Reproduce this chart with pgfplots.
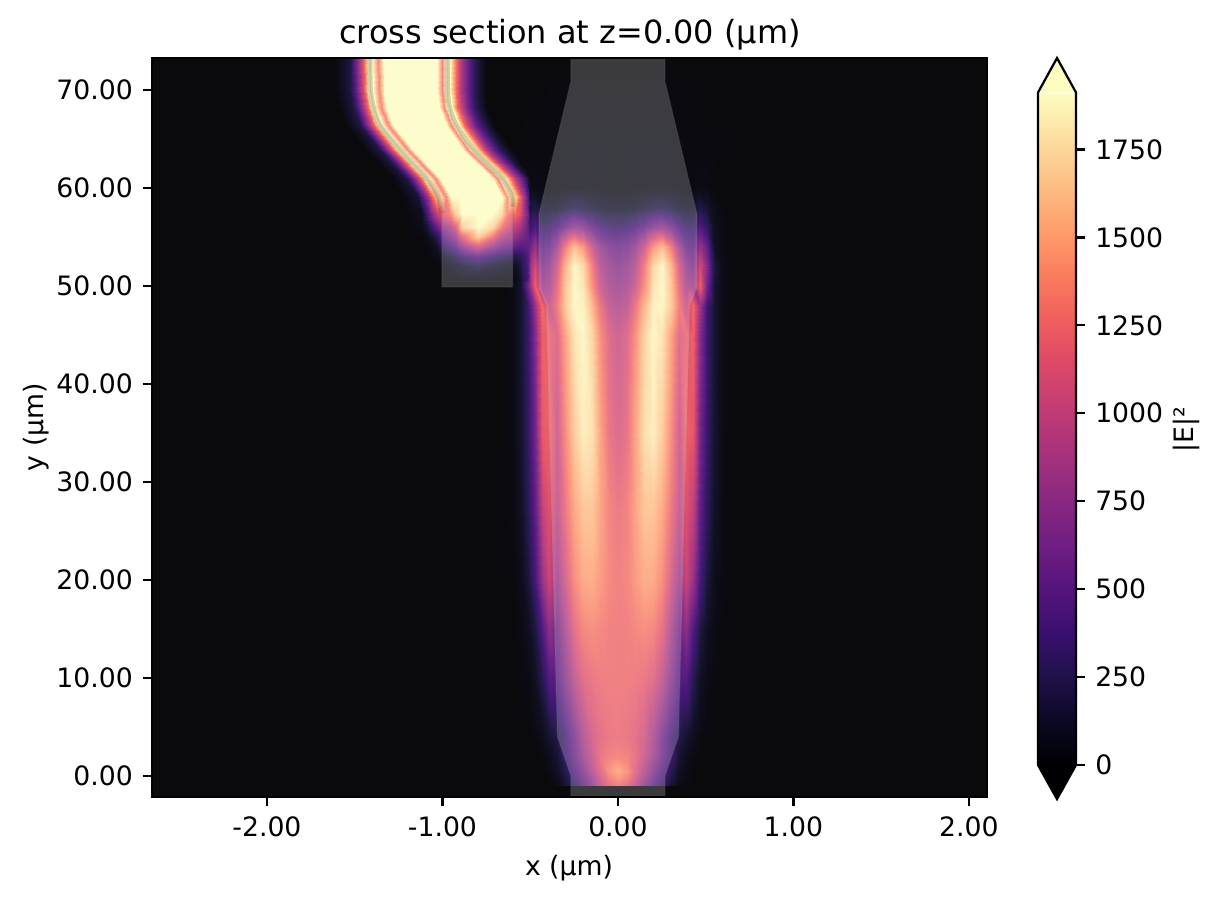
\documentclass[border=0pt]{standalone}
\usepackage{pgfplots}
\pgfplotsset{compat=1.18}
\usepackage{fontspec}
\setmainfont{DejaVu Sans}
\definecolor{bgm}{RGB}{0,0,4}
\pgfplotsset{colormap={magma}{
rgb255=(0,0,4) rgb255=(11,9,36) rgb255=(32,17,75) rgb255=(59,15,112) rgb255=(87,21,126) rgb255=(114,31,129) rgb255=(140,41,129) rgb255=(168,50,125) rgb255=(196,60,117) rgb255=(222,73,104) rgb255=(241,96,93) rgb255=(250,127,94) rgb255=(254,159,109) rgb255=(254,191,132) rgb255=(253,222,160) rgb255=(252,253,191)}}
\begin{document}
\begin{tikzpicture}[x=0.36pt,y=0.36pt]
\path (0,0) rectangle (1219,901);
\begin{axis}[at={(54.72pt,37.44pt)},anchor=south west,scale only axis,width=300.6pt,height=266.04pt,
 xmin=-2.655,xmax=2.103,ymin=-2.14,ymax=73.27,axis on top,
 axis background/.style={fill=bgm},
 tick align=outside,xtick pos=bottom,ytick pos=left,major tick length=3.4pt,
 every tick/.style={black,line width=.8pt},axis line style={line width=.8pt},
 xtick={-2,-1,0,1,2},xticklabels={-2.00,-1.00,0.00,1.00,2.00},
 ytick={0,10,...,70},yticklabels={0.00,10.00,20.00,30.00,40.00,50.00,60.00,70.00},
 tick label style={font=\fontsize{9.6}{12}\selectfont},
 point meta min=0,point meta max=1912]
\addplot[surf,shader=interp,mesh/cols=29,point meta=explicit] table[x=x,y=y,meta=v]{
x y v
-.65 -1.01 0
-.6 -1.01 0
-.55 -1.01 0
-.51 -1.01 0
-.47 -1.01 0
-.43 -1.01 0
-.39 -1.01 0
-.35 -1.01 0
-.3 -1.01 0
-.25 -1.01 0
-.2 -1.01 0
-.15 -1.01 0
-.1 -1.01 0
-.05 -1.01 0
0 -1.01 0
.05 -1.01 0
.1 -1.01 0
.15 -1.01 0
.2 -1.01 0
.25 -1.01 0
.3 -1.01 0
.35 -1.01 0
.39 -1.01 0
.43 -1.01 0
.47 -1.01 0
.51 -1.01 0
.55 -1.01 0
.6 -1.01 0
.65 -1.01 0
-.65 -1 0
-.6 -1 0
-.55 -1 0
-.51 -1 0
-.47 -1 0
-.43 -1 0
-.39 -1 0
-.35 -1 30
-.3 -1 150
-.25 -1 300
-.2 -1 500
-.15 -1 700
-.1 -1 950
-.05 -1 1150
0 -1 1250
.05 -1 1150
.1 -1 950
.15 -1 700
.2 -1 500
.25 -1 300
.3 -1 150
.35 -1 30
.39 -1 0
.43 -1 0
.47 -1 0
.51 -1 0
.55 -1 0
.6 -1 0
.65 -1 0
-.65 .5 0
-.6 .5 0
-.55 .5 0
-.51 .5 0
-.47 .5 0
-.43 .5 0
-.39 .5 30
-.35 .5 100
-.3 .5 250
-.25 .5 450
-.2 .5 650
-.15 .5 900
-.1 .5 1130
-.05 .5 1380
0 .5 1500
.05 .5 1380
.1 .5 1130
.15 .5 900
.2 .5 650
.25 .5 450
.3 .5 250
.35 .5 100
.39 .5 30
.43 .5 0
.47 .5 0
.51 .5 0
.55 .5 0
.6 .5 0
.65 .5 0
-.65 2 0
-.6 2 0
-.55 2 0
-.51 2 0
-.47 2 0
-.43 2 20
-.39 2 60
-.35 2 150
-.3 2 350
-.25 2 560
-.2 2 800
-.15 2 1000
-.1 2 1180
-.05 2 1270
0 2 1300
.05 2 1270
.1 2 1180
.15 2 1000
.2 2 800
.25 2 560
.3 2 350
.35 2 150
.39 2 60
.43 2 20
.47 2 0
.51 2 0
.55 2 0
.6 2 0
.65 2 0
-.65 4 0
-.6 4 0
-.55 4 0
-.51 4 0
-.47 4 20
-.43 4 60
-.39 4 140
-.35 4 230
-.3 4 380
-.25 4 600
-.2 4 850
-.15 4 1050
-.1 4 1150
-.05 4 1200
0 4 1220
.05 4 1200
.1 4 1150
.15 4 1050
.2 4 850
.25 4 600
.3 4 380
.35 4 230
.39 4 140
.43 4 60
.47 4 20
.51 4 0
.55 4 0
.6 4 0
.65 4 0
-.65 10 0
-.6 10 0
-.55 10 10
-.51 10 30
-.47 10 100
-.43 10 250
-.39 10 480
-.35 10 480
-.3 10 700
-.25 10 950
-.2 10 1130
-.15 10 1200
-.1 10 1240
-.05 10 1250
0 10 1250
.05 10 1250
.1 10 1240
.15 10 1200
.2 10 1130
.25 10 950
.3 10 700
.35 10 480
.39 10 480
.43 10 250
.47 10 100
.51 10 30
.55 10 10
.6 10 0
.65 10 0
-.65 15 0
-.6 15 0
-.55 15 30
-.51 15 80
-.47 15 200
-.43 15 450
-.39 15 750
-.35 15 600
-.3 15 850
-.25 15 1150
-.2 15 1300
-.15 15 1340
-.1 15 1300
-.05 15 1260
0 15 1250
.05 15 1260
.1 15 1300
.15 15 1340
.2 15 1300
.25 15 1150
.3 15 850
.35 15 600
.39 15 750
.43 15 450
.47 15 200
.51 15 80
.55 15 30
.6 15 0
.65 15 0
-.65 20 0
-.6 20 10
-.55 20 60
-.51 20 180
-.47 20 400
-.43 20 800
-.39 20 1050
-.35 20 800
-.3 20 1050
-.25 20 1330
-.2 20 1480
-.15 20 1500
-.1 20 1400
-.05 20 1300
0 20 1260
.05 20 1300
.1 20 1400
.15 20 1500
.2 20 1480
.25 20 1330
.3 20 1050
.35 20 800
.39 20 1050
.43 20 800
.47 20 400
.51 20 180
.55 20 60
.6 20 10
.65 20 0
-.65 27 0
-.6 27 20
-.55 27 110
-.51 27 270
-.47 27 520
-.43 27 1000
-.39 27 1150
-.35 27 950
-.3 27 1200
-.25 27 1470
-.2 27 1620
-.15 27 1620
-.1 27 1450
-.05 27 1280
0 27 1220
.05 27 1280
.1 27 1450
.15 27 1620
.2 27 1620
.25 27 1470
.3 27 1200
.35 27 950
.39 27 1150
.43 27 1000
.47 27 520
.51 27 270
.55 27 110
.6 27 20
.65 27 0
-.65 35 0
-.6 35 25
-.55 35 140
-.51 35 320
-.47 35 620
-.43 35 1200
-.39 35 1250
-.35 35 1000
-.3 35 1330
-.25 35 1650
-.2 35 1830
-.15 35 1760
-.1 35 1450
-.05 35 1180
0 35 1080
.05 35 1180
.1 35 1450
.15 35 1760
.2 35 1830
.25 35 1650
.3 35 1330
.35 35 1000
.39 35 1250
.43 35 1200
.47 35 620
.51 35 320
.55 35 140
.6 35 25
.65 35 0
-.65 45 0
-.6 45 25
-.55 45 150
-.51 45 340
-.47 45 700
-.43 45 1250
-.39 45 1200
-.35 45 1100
-.3 45 1450
-.25 45 1780
-.2 45 1880
-.15 45 1700
-.1 45 1350
-.05 45 1100
0 45 1000
.05 45 1100
.1 45 1350
.15 45 1700
.2 45 1880
.25 45 1780
.3 45 1450
.35 45 1100
.39 45 1200
.43 45 1250
.47 45 700
.51 45 340
.55 45 150
.6 45 25
.65 45 0
-.65 48 0
-.6 48 25
-.55 48 150
-.51 48 350
-.47 48 800
-.43 48 1300
-.39 48 1000
-.35 48 1250
-.3 48 1650
-.25 48 1880
-.2 48 1850
-.15 48 1550
-.1 48 1200
-.05 48 950
0 48 880
.05 48 950
.1 48 1200
.15 48 1550
.2 48 1850
.25 48 1880
.3 48 1650
.35 48 1250
.39 48 1000
.43 48 1300
.47 48 800
.51 48 350
.55 48 150
.6 48 25
.65 48 0
-.65 50 0
-.6 50 30
-.55 50 150
-.51 50 600
-.47 50 1250
-.43 50 800
-.39 50 850
-.35 50 1150
-.3 50 1620
-.25 50 1880
-.2 50 1780
-.15 50 1350
-.1 50 1000
-.05 50 830
0 50 780
.05 50 830
.1 50 1000
.15 50 1350
.2 50 1780
.25 50 1880
.3 50 1620
.35 50 1150
.39 50 850
.43 50 800
.47 50 1250
.51 50 600
.55 50 150
.6 50 30
.65 50 0
-.65 52 0
-.6 52 30
-.55 52 200
-.51 52 700
-.47 52 1100
-.43 52 650
-.39 52 750
-.35 52 1050
-.3 52 1550
-.25 52 1880
-.2 52 1720
-.15 52 1250
-.1 52 900
-.05 52 760
0 52 700
.05 52 760
.1 52 900
.15 52 1250
.2 52 1720
.25 52 1880
.3 52 1550
.35 52 1050
.39 52 750
.43 52 650
.47 52 1100
.51 52 700
.55 52 200
.6 52 30
.65 52 0
-.65 54 0
-.6 54 30
-.55 54 100
-.51 54 550
-.47 54 800
-.43 54 500
-.39 54 550
-.35 54 800
-.3 54 1250
-.25 54 1600
-.2 54 1400
-.15 54 1000
-.1 54 750
-.05 54 620
0 54 570
.05 54 620
.1 54 750
.15 54 1000
.2 54 1400
.25 54 1600
.3 54 1250
.35 54 800
.39 54 550
.43 54 500
.47 54 800
.51 54 550
.55 54 100
.6 54 30
.65 54 0
-.65 56 0
-.6 56 30
-.55 56 80
-.51 56 300
-.47 56 450
-.43 56 300
-.39 56 320
-.35 56 420
-.3 56 600
-.25 56 750
-.2 56 680
-.15 56 520
-.1 56 400
-.05 56 340
0 56 320
.05 56 340
.1 56 400
.15 56 520
.2 56 680
.25 56 750
.3 56 600
.35 56 420
.39 56 320
.43 56 300
.47 56 450
.51 56 300
.55 56 80
.6 56 30
.65 56 0
-.65 58 0
-.6 58 10
-.55 58 50
-.51 58 150
-.47 58 220
-.43 58 120
-.39 58 120
-.35 58 140
-.3 58 190
-.25 58 230
-.2 58 210
-.15 58 170
-.1 58 140
-.05 58 120
0 58 110
.05 58 120
.1 58 140
.15 58 170
.2 58 210
.25 58 230
.3 58 190
.35 58 140
.39 58 120
.43 58 120
.47 58 220
.51 58 150
.55 58 50
.6 58 10
.65 58 0
-.65 60 0
-.6 60 0
-.55 60 10
-.51 60 30
-.47 60 30
-.43 60 20
-.39 60 20
-.35 60 25
-.3 60 35
-.25 60 40
-.2 60 40
-.15 60 35
-.1 60 30
-.05 60 25
0 60 25
.05 60 25
.1 60 30
.15 60 35
.2 60 40
.25 60 40
.3 60 35
.35 60 25
.39 60 20
.43 60 20
.47 60 30
.51 60 30
.55 60 10
.6 60 0
.65 60 0
-.65 65 0
-.6 65 0
-.55 65 5
-.51 65 10
-.47 65 10
-.43 65 10
-.39 65 10
-.35 65 15
-.3 65 20
-.25 65 25
-.2 65 25
-.15 65 25
-.1 65 25
-.05 65 25
0 65 25
.05 65 25
.1 65 25
.15 65 25
.2 65 25
.25 65 25
.3 65 20
.35 65 15
.39 65 10
.43 65 10
.47 65 10
.51 65 10
.55 65 5
.6 65 0
.65 65 0
-.65 73.3 0
-.6 73.3 0
-.55 73.3 0
-.51 73.3 0
-.47 73.3 0
-.43 73.3 0
-.39 73.3 5
-.35 73.3 5
-.3 73.3 5
-.25 73.3 10
-.2 73.3 10
-.15 73.3 10
-.1 73.3 10
-.05 73.3 10
0 73.3 10
.05 73.3 10
.1 73.3 10
.15 73.3 10
.2 73.3 10
.25 73.3 10
.3 73.3 5
.35 73.3 5
.39 73.3 5
.43 73.3 0
.47 73.3 0
.51 73.3 0
.55 73.3 0
.6 73.3 0
.65 73.3 0
};
\addplot[surf,shader=interp,mesh/cols=21,point meta=explicit] table[x=x,y=y,meta=v]{
x y v
-1.613 73.3 0
-1.528 73.3 200
-1.503 73.3 480
-1.473 73.3 850
-1.446 73.3 1300
-1.425 73.3 1906
-1.401 73.3 1906
-1.367 73.3 1300
-1.338 73.3 1906
-1.289 73.3 1906
-1.192 73.3 1906
-1.094 73.3 1906
-1.03 73.3 1906
-1.003 73.3 1300
-.982 73.3 1906
-.958 73.3 1906
-.925 73.3 1300
-.895 73.3 900
-.856 73.3 550
-.816 73.3 250
-.754 73.3 0
-1.61 70 0
-1.525 70 200
-1.5 70 480
-1.47 70 850
-1.443 70 1300
-1.422 70 1906
-1.398 70 1906
-1.364 70 1300
-1.335 70 1906
-1.287 70 1906
-1.19 70 1906
-1.093 70 1906
-1.03 70 1906
-1.003 70 1300
-.982 70 1906
-.958 70 1906
-.925 70 1300
-.895 70 900
-.856 70 550
-.816 70 250
-.754 70 0
-1.594 68.3 0
-1.509 68.3 200
-1.484 68.3 480
-1.454 68.3 850
-1.427 68.3 1300
-1.406 68.3 1906
-1.382 68.3 1906
-1.348 68.3 1300
-1.319 68.3 1906
-1.272 68.3 1906
-1.177 68.3 1906
-1.082 68.3 1906
-1.02 68.3 1906
-.993 68.3 1300
-.972 68.3 1906
-.948 68.3 1906
-.915 68.3 1300
-.885 68.3 900
-.846 68.3 550
-.806 68.3 250
-.744 68.3 0
-1.556 66.4 0
-1.471 66.4 200
-1.446 66.4 480
-1.416 66.4 850
-1.389 66.4 1300
-1.368 66.4 1906
-1.344 66.4 1906
-1.31 66.4 1300
-1.281 66.4 1906
-1.234 66.4 1906
-1.138 66.4 1906
-1.042 66.4 1906
-.98 66.4 1906
-.953 66.4 1300
-.932 66.4 1906
-.908 66.4 1906
-.875 66.4 1300
-.845 66.4 900
-.806 66.4 550
-.766 66.4 250
-.704 66.4 0
-1.442 63.9 0
-1.357 63.9 200
-1.332 63.9 480
-1.302 63.9 850
-1.275 63.9 1300
-1.254 63.9 1906
-1.23 63.9 1906
-1.196 63.9 1300
-1.167 63.9 1906
-1.124 63.9 1906
-1.031 63.9 1906
-.938 63.9 1906
-.88 63.9 1906
-.853 63.9 1300
-.832 63.9 1906
-.808 63.9 1906
-.775 63.9 1300
-.745 63.9 900
-.706 63.9 550
-.666 63.9 250
-.604 63.9 15
-1.29 61 0
-1.205 61 200
-1.18 61 480
-1.15 61 850
-1.123 61 1300
-1.102 61 1906
-1.078 61 1906
-1.044 61 1300
-1.015 61 1906
-.969 61 1906
-.874 61 1906
-.778 61 1906
-.717 61 1906
-.69 61 1300
-.669 61 1906
-.645 61 1906
-.612 61 1300
-.582 61 900
-.543 61 500
-.512 61 150
-.5 61 25
-1.224 59.1 0
-1.139 59.1 150
-1.114 59.1 420
-1.084 59.1 800
-1.057 59.1 1250
-1.036 59.1 1600
-1.012 59.1 1800
-.978 59.1 1300
-.949 59.1 1906
-.905 59.1 1906
-.812 59.1 1906
-.719 59.1 1906
-.66 59.1 1906
-.633 59.1 1400
-.612 59.1 1800
-.588 59.1 1800
-.56 59.1 1250
-.535 59.1 850
-.515 59.1 450
-.505 59.1 200
-.5 59.1 90
-1.203 57.4 0
-1.118 57.4 80
-1.093 57.4 300
-1.063 57.4 650
-1.036 57.4 950
-1.015 57.4 1100
-.991 57.4 1200
-.957 57.4 1300
-.928 57.4 1650
-.89 57.4 1906
-.802 57.4 1906
-.713 57.4 1906
-.66 57.4 1700
-.633 57.4 1350
-.612 57.4 1250
-.588 57.4 1300
-.56 57.4 1150
-.535 57.4 850
-.515 57.4 600
-.505 57.4 350
-.5 57.4 220
-1.2 56 0
-1.115 56 40
-1.09 56 150
-1.06 56 350
-1.033 56 550
-1.012 56 700
-.988 56 800
-.954 56 900
-.925 56 1100
-.888 56 1700
-.8 56 1906
-.712 56 1700
-.66 56 1250
-.633 56 1100
-.612 56 1000
-.588 56 1000
-.56 56 850
-.535 56 700
-.515 56 550
-.505 56 420
-.5 56 340
-1.2 55 0
-1.115 55 0
-1.09 55 50
-1.06 55 130
-1.033 55 250
-1.012 55 420
-.988 55 550
-.954 55 680
-.925 55 800
-.888 55 1150
-.8 55 1650
-.712 55 1200
-.66 55 900
-.633 55 820
-.612 55 800
-.588 55 780
-.56 55 680
-.535 55 620
-.515 55 560
-.505 55 500
-.5 55 470
-1.2 54 0
-1.115 54 0
-1.09 54 0
-1.06 54 50
-1.033 54 120
-1.012 54 220
-.988 54 320
-.954 54 420
-.925 54 520
-.888 54 720
-.8 54 1000
-.712 54 750
-.66 54 600
-.633 54 560
-.612 54 540
-.588 54 520
-.56 54 480
-.535 54 500
-.515 54 540
-.505 54 580
-.5 54 600
-1.2 53 0
-1.115 53 0
-1.09 53 0
-1.06 53 10
-1.033 53 30
-1.012 53 70
-.988 53 120
-.954 53 170
-.925 53 230
-.888 53 320
-.8 53 450
-.712 53 340
-.66 53 260
-.633 53 240
-.612 53 230
-.588 53 220
-.56 53 260
-.535 53 340
-.515 53 480
-.505 53 620
-.5 53 680
-1.2 52 0
-1.115 52 0
-1.09 52 0
-1.06 52 0
-1.033 52 0
-1.012 52 20
-.988 52 40
-.954 52 60
-.925 52 90
-.888 52 140
-.8 52 200
-.712 52 140
-.66 52 100
-.633 52 90
-.612 52 80
-.588 52 90
-.56 52 180
-.535 52 320
-.515 52 450
-.505 52 650
-.5 52 760
-1.2 51 0
-1.115 51 0
-1.09 51 0
-1.06 51 0
-1.033 51 0
-1.012 51 0
-.988 51 10
-.954 51 20
-.925 51 30
-.888 51 50
-.8 51 60
-.712 51 50
-.66 51 30
-.633 51 25
-.612 51 25
-.588 51 40
-.56 51 150
-.535 51 300
-.515 51 420
-.505 51 620
-.5 51 760
-1.2 50.5 0
-1.115 50.5 0
-1.09 50.5 0
-1.06 50.5 0
-1.033 50.5 0
-1.012 50.5 0
-.988 50.5 0
-.954 50.5 0
-.925 50.5 0
-.888 50.5 0
-.8 50.5 0
-.712 50.5 0
-.66 50.5 0
-.633 50.5 0
-.612 50.5 0
-.588 50.5 20
-.56 50.5 110
-.535 50.5 280
-.515 50.5 480
-.505 50.5 650
-.5 50.5 760
};
\addplot[fill=white,fill opacity=.04,draw=none] coordinates {(-2.655,-2.14)(2.103,-2.14)(2.103,73.27)(-2.655,73.27)} --cycle;
\addplot[fill=white,fill opacity=.2,draw=gray,draw opacity=.15,line width=.5pt] coordinates {(-.268,-2.14)(-.268,0)(-.345,4)(-.41,48)(-.45,49.8)(-.45,57.4)(-.268,70.9)(-.268,73.27)(.268,73.27)(.268,70.9)(.45,57.4)(.45,49.8)(.41,48)(.345,4)(.268,0)(.268,-2.14)} --cycle;
\addplot[fill=white,fill opacity=.2,draw=gray,draw opacity=.15,line width=.5pt] coordinates {(-1.413,73.27)(-1.41,70)(-1.394,68.3)(-1.356,66.4)(-1.242,63.9)(-1.09,61)(-1.024,59.1)(-1.003,57.4)(-1.003,49.9)(-.6,49.9)(-.6,58.1)(-.603,59.5)(-.657,61)(-.755,62.7)(-.869,64.7)(-.945,67.1)(-.97,69)(-.97,73.27)} --cycle;
\addplot[black!80,opacity=.2,line width=1.7pt,smooth,tension=.4] coordinates {(-1.413,73.27)(-1.41,70)(-1.394,68.3)(-1.356,66.4)(-1.242,63.9)(-1.09,61)(-1.024,59.1)(-1.003,57.4)};
\addplot[black!80,opacity=.2,line width=1.7pt,smooth,tension=.4] coordinates {(-.6,58.1)(-.6,59.1)(-.657,61)(-.755,62.7)(-.82,63.9)(-.92,66.4)(-.96,68.3)(-.97,70)(-.97,73.27)};
\end{axis}
\begin{axis}[at={(373.68pt,48.96pt)},anchor=south west,scale only axis,width=13.68pt,height=242.1pt,
 clip=false,xmin=0,xmax=1,ymin=0,ymax=1912,axis line style={draw=none},
 xtick=\empty,ytick={0,250,...,1750},yticklabels={0,250,500,750,1000,1250,1500,1750},
 ytick pos=right,tick align=outside,major tick length=3.4pt,every tick/.style={black,line width=.8pt},
 tick label style={font=\fontsize{9.6}{12}\selectfont},yticklabel pos=right,
 point meta min=0,point meta max=1912]
\addplot[surf,shader=interp,mesh/cols=2,point meta=explicit] table[x=x,y=y,meta=v]{
x y v
0 0 0
1 0 0
0 1912 1912
1 1912 1912
};
\fill[bgm] (axis cs:0,0)--(axis cs:.5,-97)--(axis cs:1,0)--cycle;
\fill[fill={rgb,255:red,252;green,253;blue,191}] (axis cs:0,1912)--(axis cs:.5,2010)--(axis cs:1,1912)--cycle;
\draw[black,line width=.8pt] (axis cs:0,0)--(axis cs:.5,-97)--(axis cs:1,0)--(axis cs:1,1912)--(axis cs:.5,2010)--(axis cs:0,1912)--cycle;
\end{axis}
\node[font=\fontsize{11.5}{14}\selectfont] at (570,866) {cross section at z=0.00 (µm)};
\node[font=\fontsize{9.6}{12}\selectfont] at (569,33) {x (µm)};
\node[font=\fontsize{9.6}{12}\selectfont,rotate=90] at (36,474) {y (µm)};
\node[font=\fontsize{9.6}{12}\selectfont,rotate=90] at (1186,471) {|E|²};
\end{tikzpicture}
\end{document}
